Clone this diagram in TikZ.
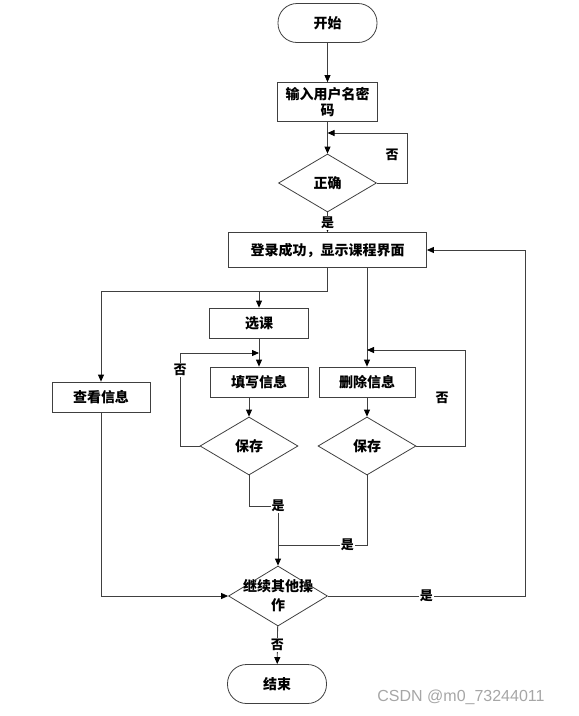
\documentclass[tikz,border=0pt]{standalone}
\usepackage{fontspec}
\setmainfont{Noto Sans CJK SC}
\newfontfamily\wmfont{Liberation Sans}
\usetikzlibrary{shapes.geometric,arrows.meta,calc}

\begin{document}
\begin{tikzpicture}[x=1pt,y=-1pt,
    font=\fontsize{14}{17}\selectfont\bfseries,
    conn/.style={draw=black!75, line width=0.8pt},
    arr/.style={conn, -{Triangle[length=7pt,width=6pt,color=black]}},
    proc/.style={draw=black!75, line width=0.8pt, rectangle, minimum height=30pt, inner sep=2pt, align=center},
    term/.style={proc, minimum width=99pt, minimum height=39pt, rounded corners=19pt},
    decision/.style={draw=black!75, line width=0.8pt, diamond, aspect=1.7, inner sep=0pt, minimum width=98pt, minimum height=58pt},
    lbl/.style={fill=white, inner sep=1pt, font=\fontsize{13}{15}\selectfont\bfseries}]
    \useasboundingbox (0,0) rectangle (579,716);

    \node[term] (start) at (327.5,23) {开始};
    \node[proc, minimum width=100pt, minimum height=39pt, font=\fontsize{14}{16}\selectfont\bfseries] (input) at (327.5,102) {输入用户名密\\码};
    \node[decision] (check) at (327.5,183) {正确};
    \node[proc, minimum width=198pt, minimum height=35pt] (login) at (327.5,250) {登录成功，显示课程界面};
    \node[proc, minimum width=99pt] (select) at (259,323) {选课};
    \node[proc, minimum width=98pt] (fill) at (259,382) {填写信息};
    \node[proc, minimum width=96pt] (delete) at (367,382) {删除信息};
    \node[proc, minimum width=98pt] (view) at (101,397) {查看信息};
    \node[decision] (save1) at (249,446) {保存};
    \node[decision] (save2) at (367,446) {保存};
    \node[decision, minimum width=99pt, minimum height=60pt,
        label={[align=center, font=\fontsize{14}{19}\selectfont\bfseries]center:继续其他操\\作}] (cont) at (278,596) {};
    \node[term] (stop) at (277,684) {结束};

    \coordinate (chkno) at (407,133);
    \coordinate (split) at (327.5,291);
    \coordinate (fillno) at (180,353);
    \coordinate (delno) at (465,350);
    \coordinate (yes1) at (278,506);
    \coordinate (yes2) at (278,545);
    \coordinate (back) at (525,596);

    \draw[arr] (start) -- (input);
    \draw[arr] (input) -- (check);
    \draw[arr] (check.east) -| (chkno) -- (input.south |- chkno);
    \node[lbl] (chkfalse) at (392,155) {否};
    \draw[arr] (check) -- node[lbl, pos=0.55]{是} (login);

    \draw[arr] (login) -- (split) -| (view);
    \draw[arr] (select |- split) -- (select);
    \draw[arr] (login.south -| delete) -- (delete);
    \draw[arr] (select) -- (fill);
    \draw[arr] (fill.south -| save1) -- (save1);
    \draw[arr] (delete) -- (save2);

    \draw[arr] (save1.west) -| node[lbl, pos=0.91]{否} (fillno) -- (fill.north |- fillno);
    \draw[arr] (save2.east) -| (delno) -- (delete.north |- delno);
    \node[lbl] (delfalse) at (442,398) {否};

    \draw[arr] (save1.south) |- (yes1) node[lbl]{是} -- (cont.north);
    \draw[conn] (save2.south) |- node[lbl, pos=0.61]{是} (yes2);

    \draw[arr] (view) |- (cont.west);
    \draw[arr] (cont.east) -- node[lbl]{是} (back) |- (login.east);
    \draw[arr] (cont) -- node[lbl]{否} (stop);

    \node[font=\wmfont\fontsize{16}{16}\selectfont, text=black!35] (mark) at (461,697) {CSDN @m0\_73244011};
\end{tikzpicture}
\end{document}
